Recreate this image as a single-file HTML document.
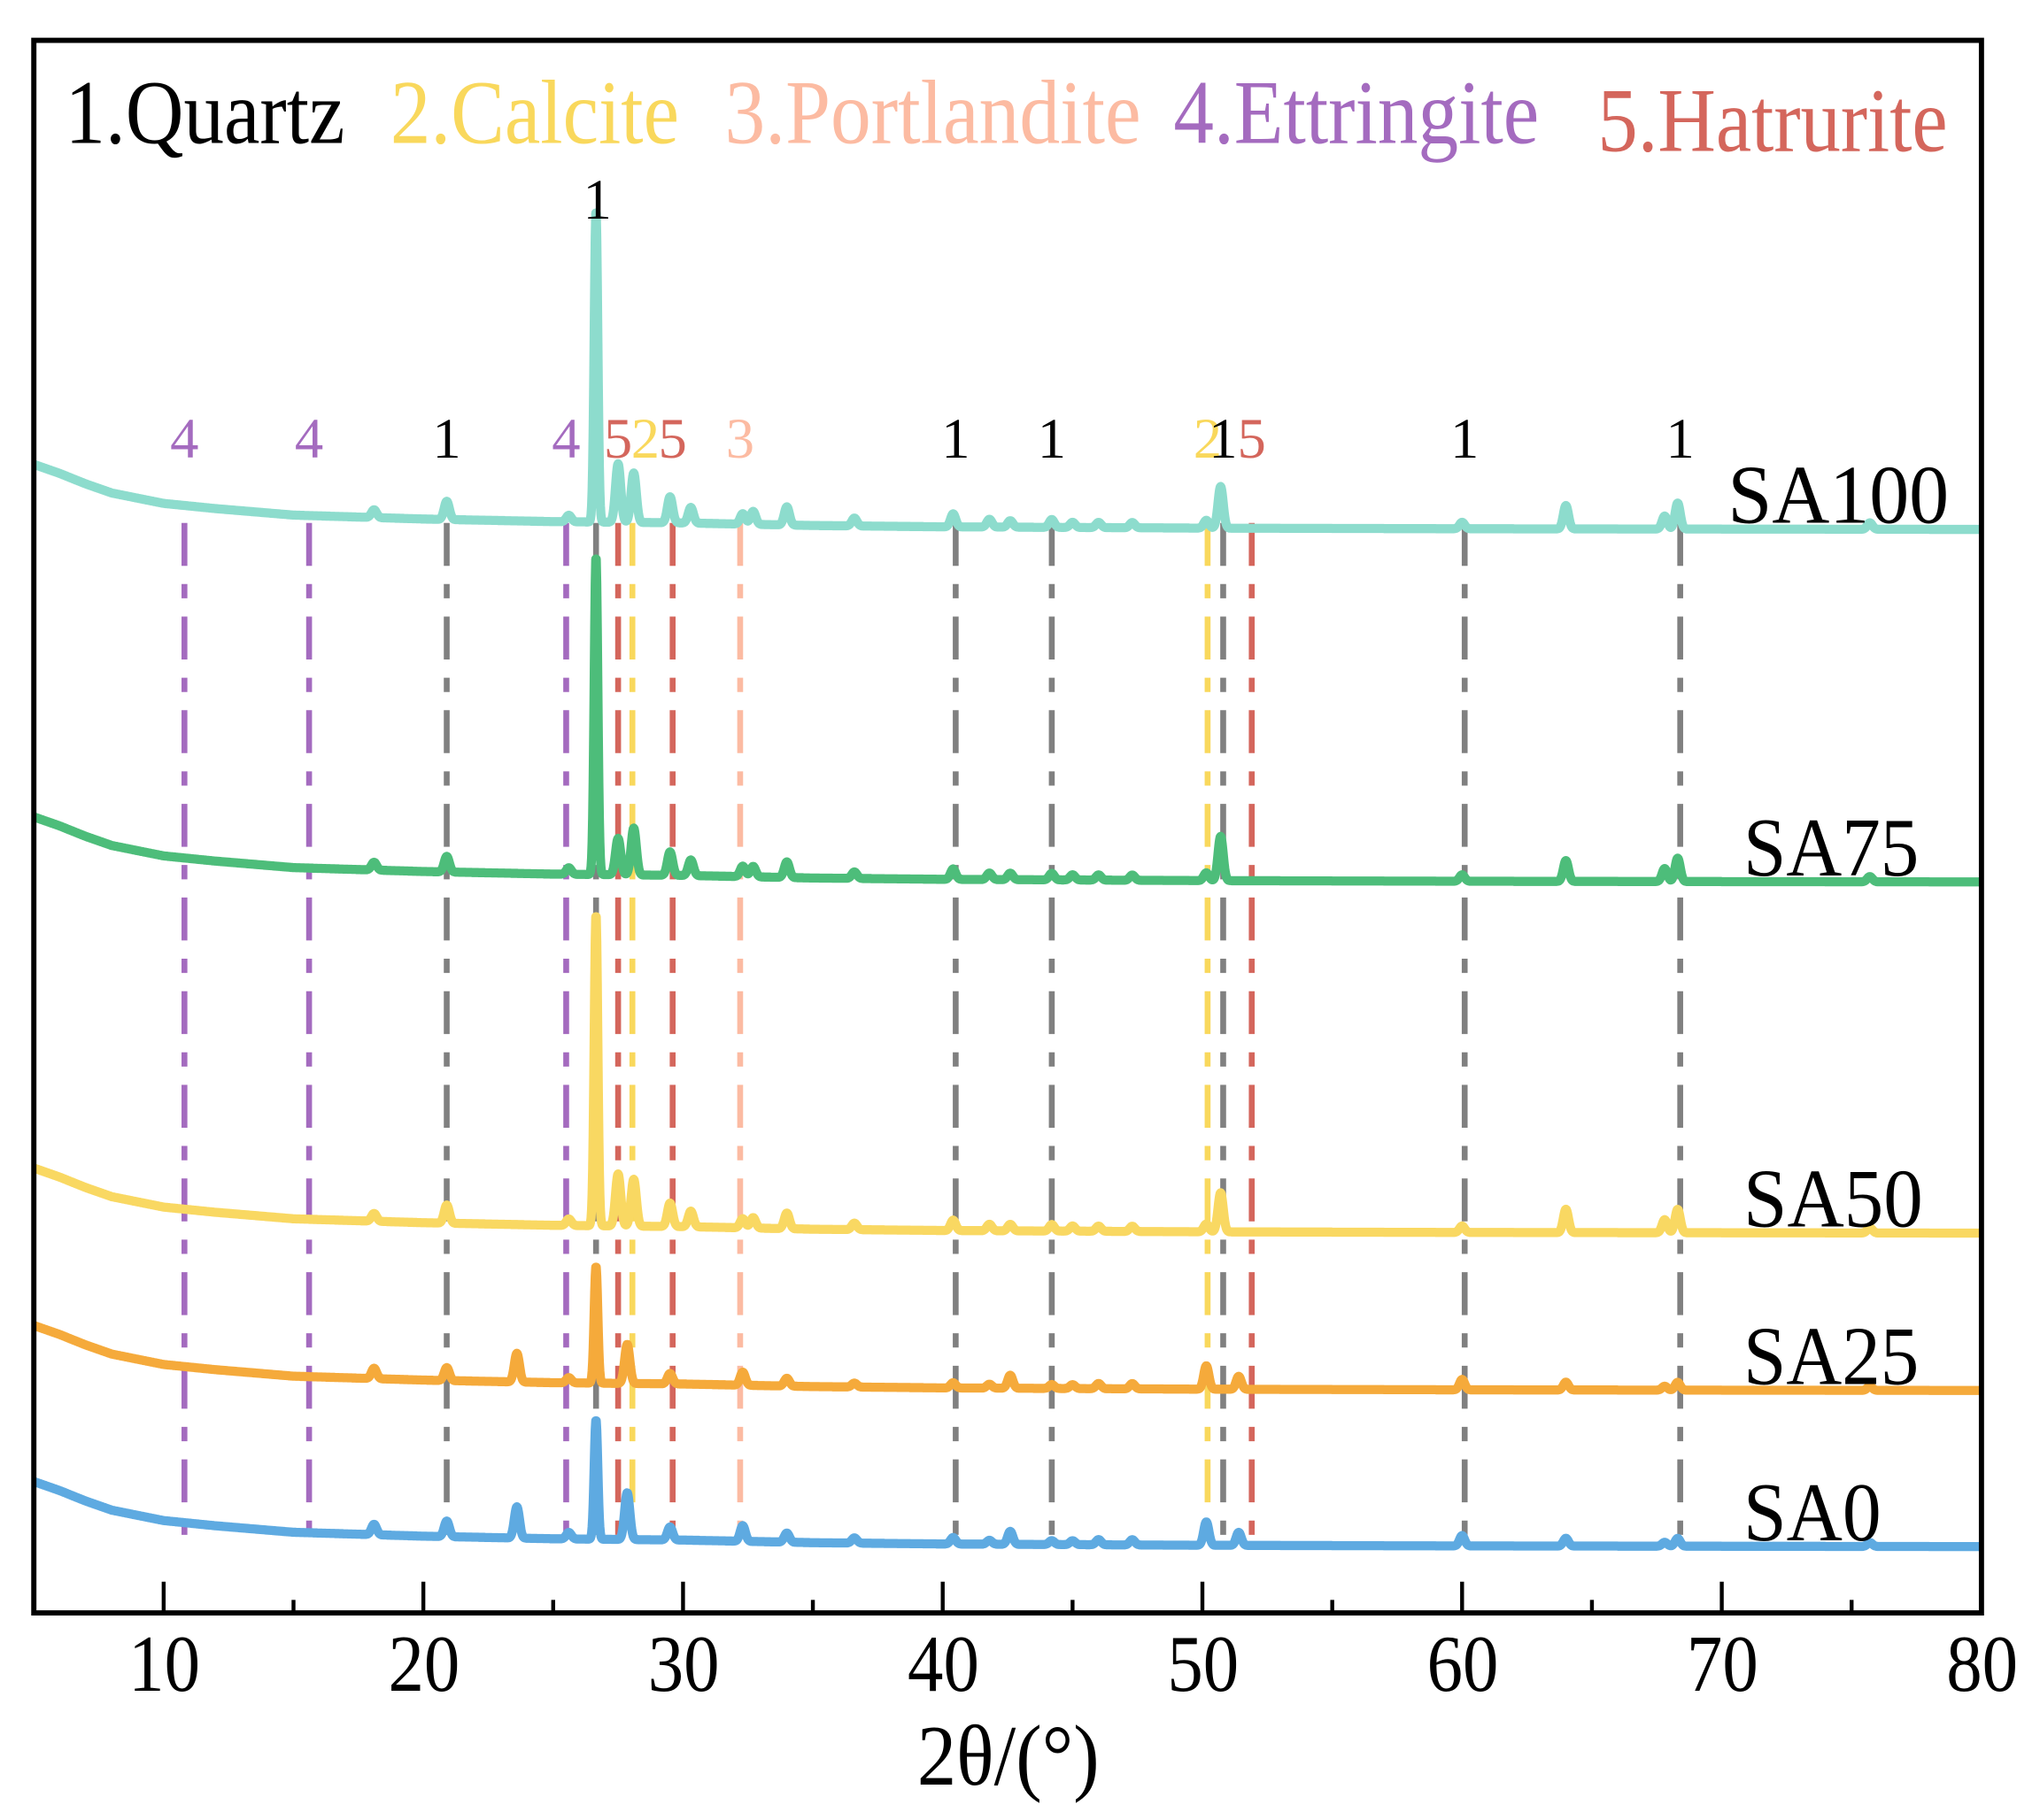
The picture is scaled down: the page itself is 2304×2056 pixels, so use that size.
<!DOCTYPE html>
<html><head><meta charset="utf-8"><style>
html,body{margin:0;padding:0;background:#fff}
svg{display:block;font-family:"Liberation Serif",serif}
</style></head><body>
<svg id="chart" width="2304" height="2056" viewBox="0 0 1568 1399.2" xmlns="http://www.w3.org/2000/svg">
<g id="refs"></g>
<g id="series"></g>
<g id="labels"></g>
<rect x="26" y="31" width="1497" height="1209" fill="none" stroke="#000" stroke-width="4"/>
<g id="axis"></g>
<text x="705" y="1372" font-size="66" textLength="140" lengthAdjust="spacingAndGlyphs">2θ/(°)</text>
<g font-size="70">
<text x="50" y="110" fill="#000" textLength="215" lengthAdjust="spacingAndGlyphs">1.Quartz</text>
<text x="300" y="110" fill="#f9d85c" textLength="222" lengthAdjust="spacingAndGlyphs">2.Calcite</text>
<text x="557" y="110" fill="#fcbba2" textLength="320" lengthAdjust="spacingAndGlyphs">3.Portlandite</text>
<text x="902" y="110" fill="#a46bbf" textLength="281" lengthAdjust="spacingAndGlyphs">4.Ettringite</text>
<text x="1228" y="116" fill="#d4665c" textLength="269" lengthAdjust="spacingAndGlyphs">5.Hatrurite</text>
</g>
</svg>
<script>
const xTicks=[10,20,30,40,50,60,70,80];
const seriesNames=["SA100","SA75","SA50","SA25","SA0"];
const seriesColors=["#8ddccd","#4dbd7a","#f9d862","#f5aa3b","#5eaae1"];
const seriesBaseline=[407,678,948,1069,1189];
const baseX=[5,6,7,8,10,12,15,20,25,30,35,40,50,60,80];
const baseOff=[50,43,35,28,20,16,11,8,6,5,3,2,1,0.5,0];
const peakPos=[18.1,20.9,23.6,25.6,26.65,27.5,27.85,28.1,29.5,30.3,32.3,32.7,34.0,36.6,40.4,41.8,42.6,44.2,45.0,46.0,47.3,50.15,50.7,51.4,60.0,64.0,67.8,68.3,75.7];
const peaksSA100=[6,14,0,5,240,45,0,38,20,12,8,10,14,6,10,6,5,6,4,4,4,6,32,0,5,18,10,20,5];
const peaksSA75=[6,12,0,5,245,28,0,36,18,12,8,8,12,5,8,5,5,5,4,4,4,6,34,0,5,16,10,18,4];
const peaksSA50=[6,14,0,5,240,40,0,36,18,12,7,8,12,5,8,5,5,5,4,4,4,6,30,0,5,18,10,18,4];
const peaksSA25=[8,10,22,4,90,0,30,0,8,0,10,0,6,3,4,3,10,3,3,4,4,18,0,10,8,6,3,6,3];
const peaksSA0=[8,12,24,5,92,0,36,0,10,0,12,0,7,4,5,3,10,3,3,4,4,18,0,10,8,6,3,6,3];
const seriesPeaks=[peaksSA100,peaksSA75,peaksSA50,peaksSA25,peaksSA0];
const refPos=[10.8,15.6,20.9,25.5,26.65,27.5,28.05,29.6,32.2,40.5,44.2,50.2,50.8,51.9,60.1,68.4];
const refLabels=["4","4","1","4","","5","2","5","3","1","1","2","1","5","1","1"];
const refType=[4,4,1,4,1,5,2,5,3,1,1,2,1,5,1,1];
const typeColors={1:"#808080",2:"#f9d85c",3:"#fcbba2",4:"#a46bbf",5:"#d4665c"};
const labelColors={1:"#000",2:"#f9d85c",3:"#fcbba2",4:"#a46bbf",5:"#d4665c"};
const NS="http://www.w3.org/2000/svg";
const X0=5,X1=80,PX0=26,PX1=1523;
function xs(v){return PX0+(v-X0)/(X1-X0)*(PX1-PX0);}
function baseAt(t){for(let i=0;i<baseX.length-1;i++){if(t<=baseX[i+1]){const f=(t-baseX[i])/(baseX[i+1]-baseX[i]);return baseOff[i]+f*(baseOff[i+1]-baseOff[i]);}}return 0;}
function mk(tag,attrs){const e=document.createElementNS(NS,tag);for(const k in attrs)e.setAttribute(k,attrs[k]);return e;}
const refs=document.getElementById('refs');
refPos.forEach((p,i)=>{
 const x=xs(p);
 const l=mk('line',{x1:x,x2:x,y1:402,y2:1180,stroke:typeColors[refType[i]],'stroke-width':4.5,'stroke-dasharray':'33 14 11 14'});
 
 
 refs.appendChild(l);
});
const sg=document.getElementById('series');
seriesNames.forEach((n,s)=>{
 let d='';
 for(let t=5;t<=80.001;t+=0.02){
  let y=seriesBaseline[s]-baseAt(t);
  seriesPeaks[s].forEach((h,k)=>{if(h){const sig=peakPos[k]==26.65?0.07:0.1;const dx=(t-peakPos[k])/sig;if(Math.abs(dx)<6)y-=h*Math.exp(-0.5*dx*dx);}});
  d+=(d?'L':'M')+xs(t).toFixed(1)+' '+y.toFixed(1);
 }
 const p=mk('path',{d:d,fill:'none',stroke:seriesColors[s],'stroke-width':7,'stroke-linejoin':'round'});
 
 
 sg.appendChild(p);
 const lb=mk('text',{x:1328+(s>0?12:0),y:seriesBaseline[s]-5,'font-size':64,fill:'#000'});
 lb.textContent=n;
 lb.setAttribute('textLength',[170,135,138,135,106][s]);
 lb.setAttribute('lengthAdjust','spacingAndGlyphs');
 
 
 sg.appendChild(lb);
});
const lg=document.getElementById('labels');
refPos.forEach((p,i)=>{
 if(!refLabels[i])return;
 let x=xs(p);
 if(i==6)x+=10;
 const t=mk('text',{x:x,y:352,'font-size':44,'text-anchor':'middle',fill:labelColors[refType[i]]});
 t.textContent=refLabels[i];
 
 
 lg.appendChild(t);
});
const top1=mk('text',{x:xs(26.65)+1,y:168,'font-size':44,'text-anchor':'middle',fill:'#000'});
top1.textContent='1';


lg.appendChild(top1);
const ax=document.getElementById('axis');
for(let v=10;v<=75;v+=5){
 const major=v%10==0;
 const t=mk('line',{x1:xs(v),x2:xs(v),y1:1240,y2:major?1216:1230,stroke:'#000','stroke-width':3});
 
 
 ax.appendChild(t);
}
xTicks.forEach(v=>{
 const t=mk('text',{x:xs(v)-27,y:1300,'font-size':62,fill:'#000'});
 t.textContent=v;
 t.setAttribute('textLength',55);
 t.setAttribute('lengthAdjust','spacingAndGlyphs');
 
 
 ax.appendChild(t);
});
</script>
</body></html>
